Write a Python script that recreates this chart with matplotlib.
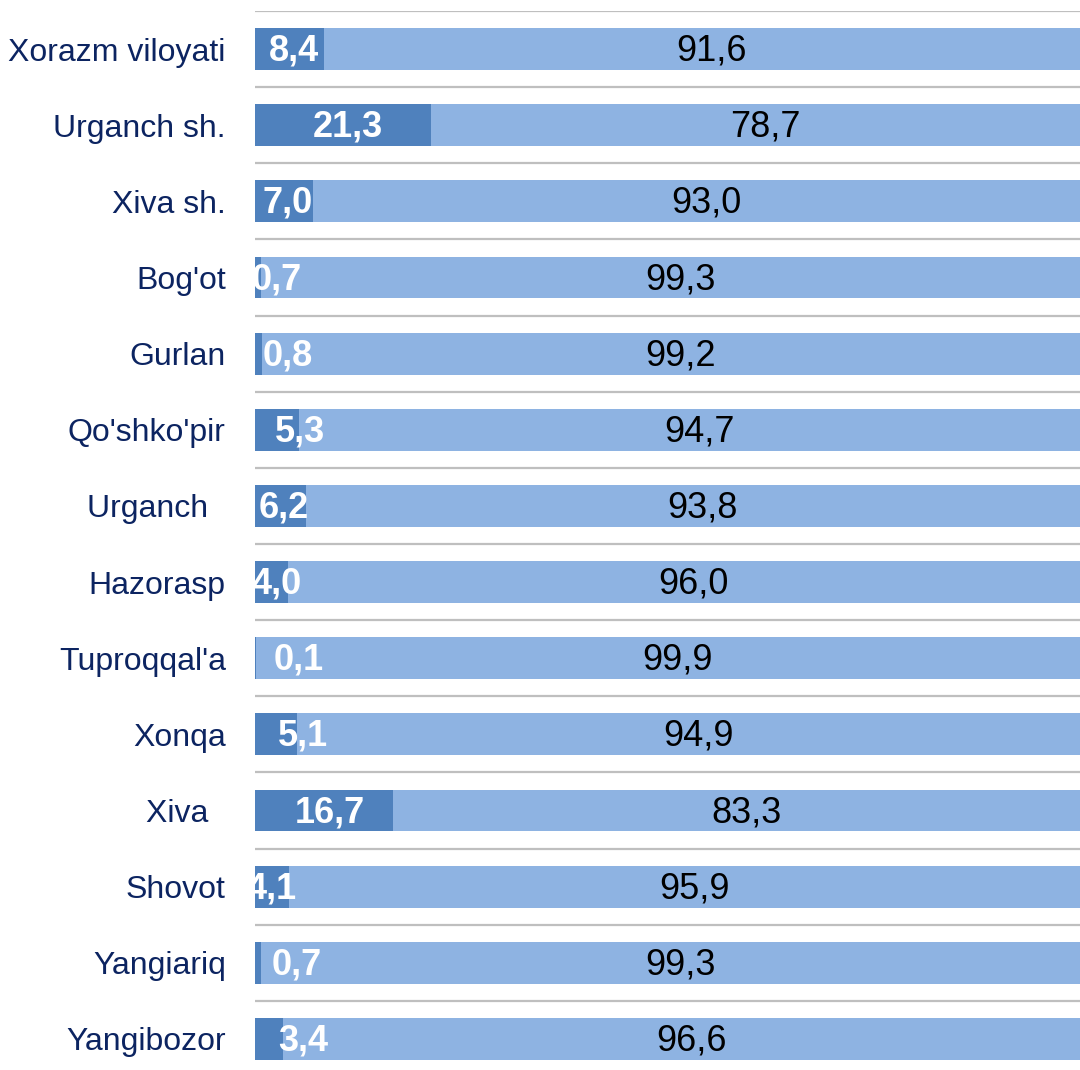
import matplotlib
matplotlib.use("Agg")
import matplotlib.pyplot as plt

# data, top to bottom
regions = ["Xorazm viloyati", "Urganch sh.", "Xiva sh.", "Bog'ot", "Gurlan",
           "Qo'shko'pir", "Urganch  ", "Hazorasp", "Tuproqqal'a", "Xonqa",
           "Xiva  ", "Shovot", "Yangiariq", "Yangibozor"]
share_a = [8.4, 21.3, 7.0, 0.7, 0.8, 5.3, 6.2, 4.0, 0.1, 5.1, 16.7, 4.1, 0.7, 3.4]
share_b = [91.6, 78.7, 93.0, 99.3, 99.2, 94.7, 93.8, 96.0, 99.9, 94.9, 83.3, 95.9, 99.3, 96.6]

# hand-placed label nudges (px) for the small dark segments, as in the original
nudge_a = [4, 5, 4, 19, 29, 23, 3, 5, 43, 27, 6, 0, 39, 34]

DARK = "#4f81bd"
LIGHT = "#8eb3e2"
GRID = "#bfbfbf"
NAVY = "#0c2461"

plt.rcParams["font.family"] = ["Liberation Sans", "DejaVu Sans"]

fig = plt.figure(figsize=(10.8, 10.7), dpi=100)
ax = fig.add_axes([255 / 1080, 1 - 1077 / 1070, 1 - 255 / 1080, 1066 / 1070])

y = list(range(len(regions)))
ax.barh(y, share_a, height=0.55, color=DARK, zorder=2)
ax.barh(y, share_b, left=share_a, height=0.55, color=LIGHT, zorder=2)

for i in y:
    ax.annotate(f"{share_a[i]:.1f}".replace(".", ","), (share_a[i] / 2, i),
                xytext=(nudge_a[i] * 0.72, -1.5), textcoords="offset points",
                ha="center", va="center", fontsize=26, fontweight="bold",
                color="white", zorder=3, annotation_clip=False)
    ax.annotate(f"{share_b[i]:.1f}".replace(".", ","), (share_a[i] + share_b[i] / 2, i),
                xytext=(7, -1.5), textcoords="offset points",
                ha="center", va="center", fontsize=26, color="black", zorder=3)

for i in range(len(regions)):
    ax.axhline(i - 0.5, color=GRID, lw=1.6, zorder=1)

ax.set_xlim(0, 100)
ax.set_ylim(len(regions) - 0.5, -0.5)
ax.set_yticks(y)
ax.set_yticklabels(regions, fontsize=23, color=NAVY)
ax.tick_params(axis="y", length=0, pad=21)
for lbl in ax.get_yticklabels():
    lbl.set_y(lbl.get_position()[1])
ax.set_xticks([])
for s in ax.spines.values():
    s.set_visible(False)

fig.savefig("out.png", dpi=100)
